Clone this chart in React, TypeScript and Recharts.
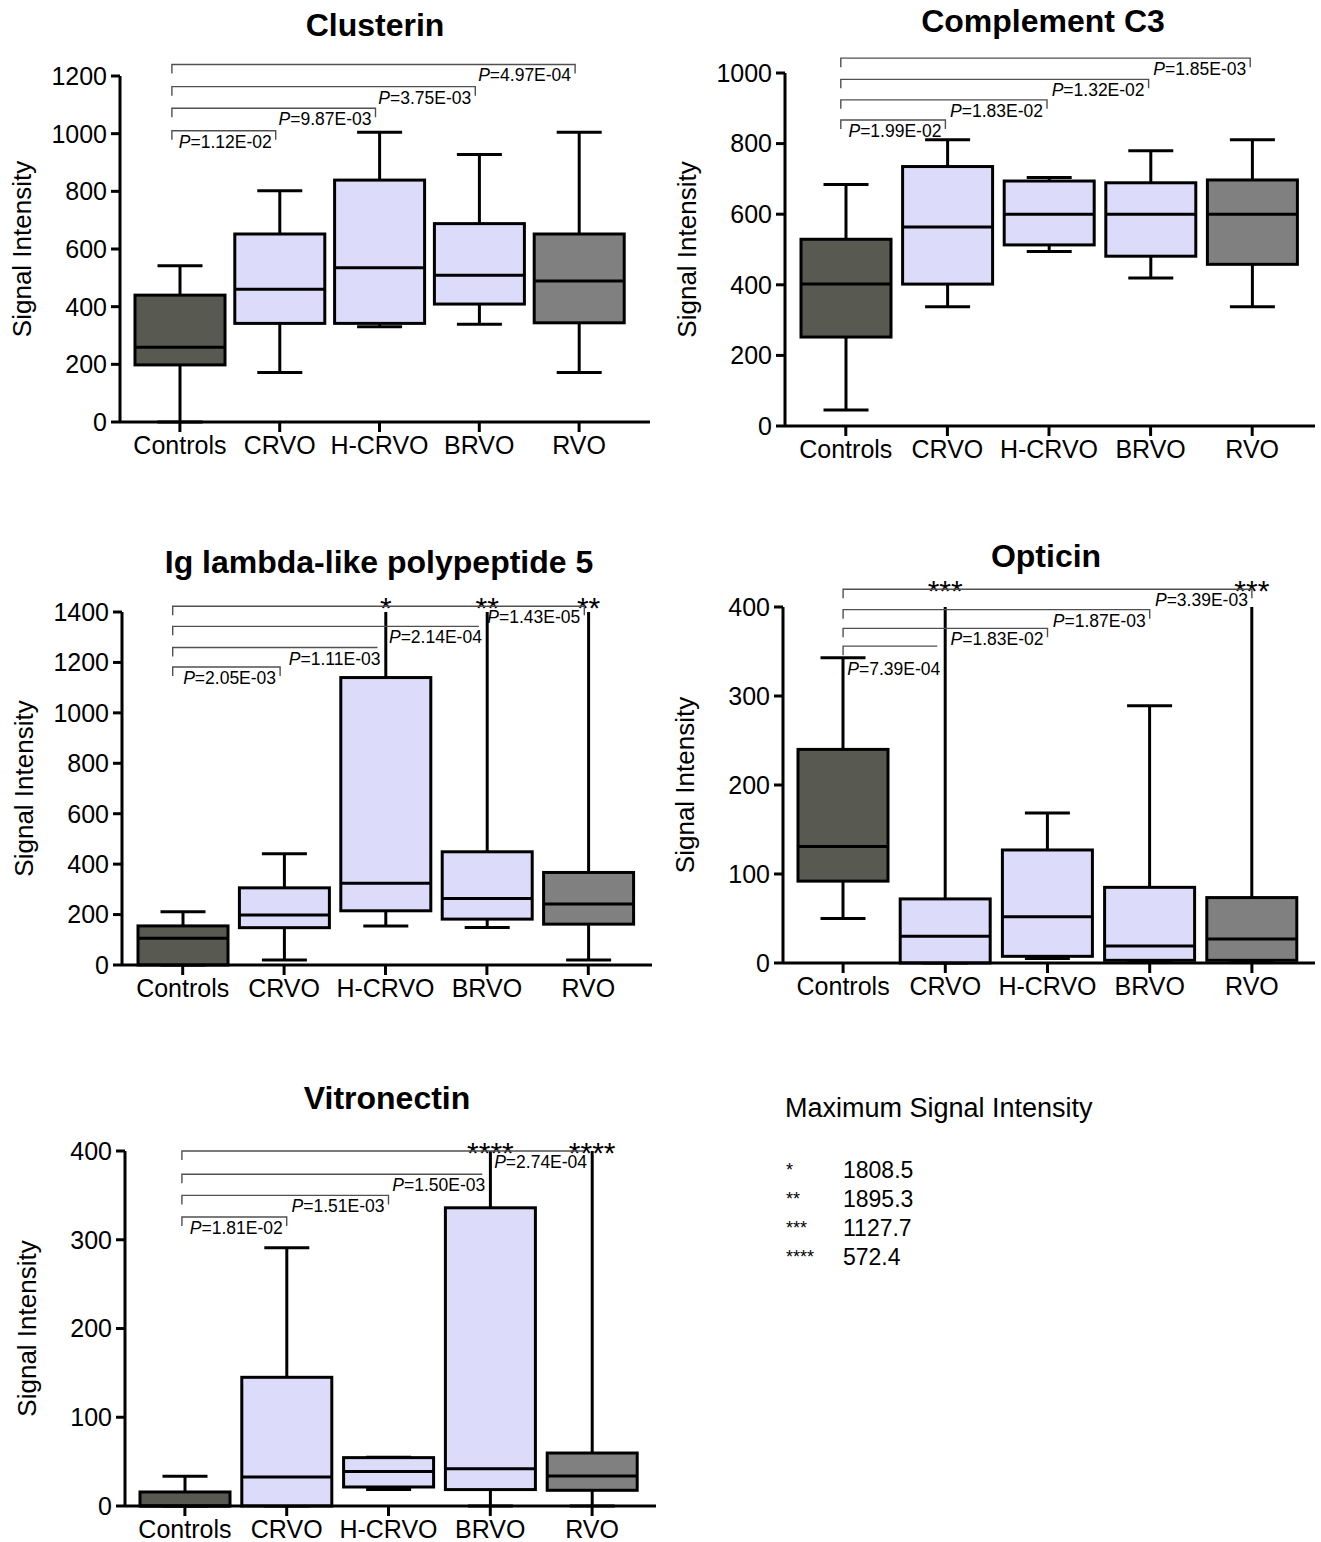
import React from "react";
import { ComposedChart, Bar, XAxis, YAxis, ReferenceLine } from "recharts";

const FONT = '"Liberation Sans", Arial, Helvetica, sans-serif';

const groups = ["Controls", "CRVO", "H-CRVO", "BRVO", "RVO"];
const boxFills = ["#585951", "#dcdcfa", "#dcdcfa", "#dcdcfa", "#808080"];

// whiskers that run off the top of an axis, keyed by star count
const maxStars = ["*", "**", "***", "****"];
const maxValues = [1808.5, 1895.3, 1127.7, 572.4];

// Clusterin
const clusterinTicks = [0, 200, 400, 600, 800, 1000, 1200];
const clusterinMin = [0, 172, 330, 339, 172];
const clusterinQ1 = [198, 342, 342, 409, 344];
const clusterinMedian = [259, 460, 535, 509, 489];
const clusterinQ3 = [440, 652, 839, 688, 652];
const clusterinMax = [542, 802, 1005, 928, 1005];
const clusterinPTargets = ["CRVO", "H-CRVO", "BRVO", "RVO"];
const clusterinPValues = ["1.12E-02", "9.87E-03", "3.75E-03", "4.97E-04"];
const clusterinPLevels = [1010, 1088, 1163, 1240];
const clusterinPLegs = [true, true, true, true];

// Complement C3
const c3Ticks = [0, 200, 400, 600, 800, 1000];
const c3Min = [45, 338, 494, 419, 338];
const c3Q1 = [252, 402, 513, 481, 458];
const c3Median = [402, 564, 600, 600, 600];
const c3Q3 = [529, 735, 694, 689, 697];
const c3Max = [684, 811, 704, 780, 811];
const c3PTargets = ["CRVO", "H-CRVO", "BRVO", "RVO"];
const c3PValues = ["1.99E-02", "1.83E-02", "1.32E-02", "1.85E-03"];
const c3PLevels = [867, 924, 982, 1042];
const c3PLegs = [true, true, true, true];

// Ig lambda-like polypeptide 5
const iglTicks = [0, 200, 400, 600, 800, 1000, 1200, 1400];
const iglMin = [0, 20, 155, 149, 20];
const iglQ1 = [0, 148, 215, 182, 162];
const iglMedian = [106, 198, 324, 264, 242];
const iglQ3 = [155, 306, 1140, 449, 367];
const iglMax = [211, 441, 1808.5, 1895.3, 1895.3];
const iglPTargets = ["CRVO", "H-CRVO", "BRVO", "RVO"];
const iglPValues = ["2.05E-03", "1.11E-03", "2.14E-04", "1.43E-05"];
const iglPLevels = [1182, 1259, 1343, 1423];
const iglPLegs = [true, false, false, true];

// Opticin
const opticinTicks = [0, 100, 200, 300, 400];
const opticinMin = [50, 0, 5, 2, 2];
const opticinQ1 = [92, 0, 7.5, 3, 3];
const opticinMedian = [131, 30, 52, 19, 27];
const opticinQ3 = [240, 72, 127, 85, 73.5];
const opticinMax = [343, 1127.7, 168.5, 289, 1127.7];
const opticinPTargets = ["CRVO", "H-CRVO", "BRVO", "RVO"];
const opticinPValues = ["7.39E-04", "1.83E-02", "1.87E-03", "3.39E-03"];
const opticinPLevels = [356, 376, 397, 420];
const opticinPLegs = [false, true, true, true];

// Vitronectin
const vitroTicks = [0, 100, 200, 300, 400];
const vitroMin = [0, 0, 18.5, 0, 0];
const vitroQ1 = [0, 0, 21.4, 18.5, 17.7];
const vitroMedian = [0, 32.7, 39, 42, 33.8];
const vitroQ3 = [15.8, 145, 54.5, 336, 59.7];
const vitroMax = [33.5, 291, 55, 572.4, 572.4];
const vitroPTargets = ["CRVO", "H-CRVO", "BRVO", "RVO"];
const vitroPValues = ["1.81E-02", "1.51E-03", "1.50E-03", "2.74E-04"];
const vitroPLevels = [325.6, 350, 373.8, 400];
const vitroPLegs = [true, true, false, false];

const AXIS_W = 120;
const TOP_ROOM = 70;
const X_AXIS_H = 36;

function BoxShape(props: any) {
  const { x, y, width, height, payload, starLevel } = props;
  const lo = payload.range[0];
  const hi = payload.range[1];
  const toY = (v: number) => y + (height * (hi - v)) / (hi - lo);
  const cx = x + width / 2;
  const cap = width / 4;
  const clipped = payload.stars != null;
  return (
    <g>
      <line x1={cx} x2={cx} y1={toY(hi)} y2={toY(lo)} stroke="#000" strokeWidth={3} />
      {!clipped && <line x1={cx - cap} x2={cx + cap} y1={toY(hi)} y2={toY(hi)} stroke="#000" strokeWidth={3} />}
      <line x1={cx - cap} x2={cx + cap} y1={toY(lo)} y2={toY(lo)} stroke="#000" strokeWidth={3} />
      <rect
        x={x}
        y={toY(payload.q3)}
        width={width}
        height={Math.max(toY(payload.q1) - toY(payload.q3), 0)}
        fill={payload.fill}
        stroke="#000"
        strokeWidth={3}
      />
      <line x1={x} x2={x + width} y1={toY(payload.median)} y2={toY(payload.median)} stroke="#000" strokeWidth={3} />
      {clipped && (
        <text x={cx} y={toY(starLevel) + 12} textAnchor="middle" fontSize={30} fontFamily={FONT} fill="#000">
          {payload.stars}
        </text>
      )}
    </g>
  );
}

function Bracket(props: any) {
  const { x1, y1, x2, label, leg, shiftL, shiftR, labelDy } = props;
  const lx = x1 + shiftL;
  const rx = leg ? x2 + shiftR : x2 - 8;
  const legLen = 9;
  const d = leg
    ? `M${lx},${y1 + legLen}V${y1}H${rx}V${y1 + legLen}`
    : `M${lx},${y1 + legLen}V${y1}H${rx}`;
  return (
    <g>
      <path d={d} fill="none" stroke="#505050" strokeWidth={1.4} />
      <text
        x={leg ? rx - 4 : rx + 3}
        y={y1 + labelDy}
        textAnchor="end"
        dominantBaseline="central"
        fontSize={17.5}
        fontFamily={FONT}
        fill="#000"
      >
        <tspan fontStyle="italic">P</tspan>={label}
      </text>
    </g>
  );
}

type PanelProps = {
  title: string;
  titleX: number;
  titleY: number;
  plotLeft: number;
  plotRight: number;
  plotTop: number;
  plotBottom: number;
  padL: number;
  padR: number;
  ticks: number[];
  mins: number[];
  q1s: number[];
  medians: number[];
  q3s: number[];
  maxs: number[];
  pTargets: string[];
  pValues: string[];
  pLevels: number[];
  pLegs: boolean[];
  shiftL: number;
  shiftR: number;
  labelDy?: number[];
};

function BoxPanel(p: PanelProps) {
  const domainMax = p.ticks[p.ticks.length - 1];
  const rows = groups.map((g, i) => ({
    name: g,
    fill: boxFills[i],
    min: p.mins[i],
    q1: p.q1s[i],
    median: p.medians[i],
    q3: p.q3s[i],
    max: p.maxs[i],
    range: [p.mins[i], Math.min(p.maxs[i], domainMax)],
    stars: p.maxs[i] > domainMax ? maxStars[maxValues.indexOf(p.maxs[i])] : null,
  }));
  const starLevel = Math.max(...p.pLevels);
  const svgLeft = p.plotLeft - AXIS_W;
  const svgTop = p.plotTop - TOP_ROOM;
  const width = p.plotRight + 5 - svgLeft;
  const height = p.plotBottom + X_AXIS_H - svgTop;

  return (
    <>
      <div
        style={{
          position: "absolute",
          left: p.titleX - 300,
          width: 600,
          top: p.titleY - 16,
          lineHeight: "32px",
          fontSize: 32,
          fontWeight: "bold",
          textAlign: "center",
          fontFamily: FONT,
        }}
      >
        {p.title}
      </div>
      <div style={{ position: "absolute", left: svgLeft, top: svgTop }}>
        <ComposedChart
          width={width}
          height={height}
          data={rows}
          margin={{ top: TOP_ROOM, right: 5, bottom: 0, left: 0 }}
        >
          <XAxis
            dataKey="name"
            type="category"
            height={X_AXIS_H}
            padding={{ left: p.padL, right: p.padR }}
            axisLine={{ stroke: "#000", strokeWidth: 3 }}
            tickLine={{ stroke: "#000", strokeWidth: 3 }}
            tickSize={10}
            tickMargin={4}
            tick={{ fill: "#000", fontSize: 25, fontFamily: FONT }}
            interval={0}
          />
          <YAxis
            type="number"
            domain={[0, domainMax]}
            ticks={p.ticks}
            width={AXIS_W}
            axisLine={{ stroke: "#000", strokeWidth: 3 }}
            tickLine={{ stroke: "#000", strokeWidth: 3 }}
            tickSize={9}
            tickMargin={4}
            tick={{ fill: "#000", fontSize: 25, fontFamily: FONT }}
            label={(lp: any) => {
              const vb = lp.viewBox || { x: 0, y: TOP_ROOM, width: AXIS_W, height: p.plotBottom - p.plotTop };
              const cx = vb.x + vb.width - 98;
              const cy = vb.y + vb.height / 2;
              return (
                <text
                  x={cx}
                  y={cy}
                  transform={`rotate(-90 ${cx} ${cy})`}
                  textAnchor="middle"
                  dominantBaseline="central"
                  fontSize={26}
                  fontFamily={FONT}
                  fill="#000"
                >
                  Signal Intensity
                </text>
              );
            }}
          />
          <Bar
            dataKey="range"
            barSize={90}
            isAnimationActive={false}
            shape={(sp: any) => <BoxShape {...sp} starLevel={starLevel} />}
          />
          {p.pTargets.map((t, i) => (
            <ReferenceLine
              key={t}
              segment={[
                { x: "Controls", y: p.pLevels[i] },
                { x: t, y: p.pLevels[i] },
              ]}
              ifOverflow="visible"
              shape={(lp: any) => (
                <Bracket
                  {...lp}
                  label={p.pValues[i]}
                  leg={p.pLegs[i]}
                  shiftL={p.shiftL}
                  shiftR={p.shiftR}
                  labelDy={p.labelDy ? p.labelDy[i] : 11}
                />
              )}
            />
          ))}
        </ComposedChart>
      </div>
    </>
  );
}

const legendRows = maxStars.map((s, i) => ({ stars: s, value: maxValues[i].toFixed(1) }));

export default function App() {
  return (
    <div
      style={{
        position: "absolute",
        left: 0,
        top: 0,
        width: 1321,
        height: 1542,
        overflow: "hidden",
        background: "#fff",
        fontFamily: FONT,
        color: "#000",
      }}
    >
      <BoxPanel
        title="Clusterin"
        titleX={375}
        titleY={25}
        plotLeft={120}
        plotRight={650}
        plotTop={76}
        plotBottom={422}
        padL={10}
        padR={21}
        ticks={clusterinTicks}
        mins={clusterinMin}
        q1s={clusterinQ1}
        medians={clusterinMedian}
        q3s={clusterinQ3}
        maxs={clusterinMax}
        pTargets={clusterinPTargets}
        pValues={clusterinPValues}
        pLevels={clusterinPLevels}
        pLegs={clusterinPLegs}
        shiftL={-8}
        shiftR={-4}
      />
      <BoxPanel
        title="Complement C3"
        titleX={1043}
        titleY={21}
        plotLeft={785}
        plotRight={1315}
        plotTop={72.5}
        plotBottom={425.5}
        padL={10}
        padR={12}
        ticks={c3Ticks}
        mins={c3Min}
        q1s={c3Q1}
        medians={c3Median}
        q3s={c3Q3}
        maxs={c3Max}
        pTargets={c3PTargets}
        pValues={c3PValues}
        pLevels={c3PLevels}
        pLegs={c3PLegs}
        shiftL={-5}
        shiftR={-2}
      />
      <BoxPanel
        title="Ig lambda-like polypeptide 5"
        titleX={379}
        titleY={562}
        plotLeft={122}
        plotRight={652}
        plotTop={612}
        plotBottom={965}
        padL={10}
        padR={13}
        ticks={iglTicks}
        mins={iglMin}
        q1s={iglQ1}
        medians={iglMedian}
        q3s={iglQ3}
        maxs={iglMax}
        pTargets={iglPTargets}
        pValues={iglPValues}
        pLevels={iglPLevels}
        pLegs={iglPLegs}
        shiftL={-10}
        shiftR={-4}
      />
      <BoxPanel
        title="Opticin"
        titleX={1046}
        titleY={556}
        plotLeft={783}
        plotRight={1315}
        plotTop={607}
        plotBottom={963}
        padL={9}
        padR={12}
        ticks={opticinTicks}
        mins={opticinMin}
        q1s={opticinQ1}
        medians={opticinMedian}
        q3s={opticinQ3}
        maxs={opticinMax}
        pTargets={opticinPTargets}
        pValues={opticinPValues}
        pLevels={opticinPLevels}
        pLegs={opticinPLegs}
        shiftL={0}
        shiftR={0}
        labelDy={[23, 11, 11, 11]}
      />
      <BoxPanel
        title="Vitronectin"
        titleX={387}
        titleY={1098}
        plotLeft={125}
        plotRight={656}
        plotTop={1151}
        plotBottom={1506}
        padL={9}
        padR={13}
        ticks={vitroTicks}
        mins={vitroMin}
        q1s={vitroQ1}
        medians={vitroMedian}
        q3s={vitroQ3}
        maxs={vitroMax}
        pTargets={vitroPTargets}
        pValues={vitroPValues}
        pLevels={vitroPLevels}
        pLegs={vitroPLegs}
        shiftL={-3}
        shiftR={0}
      />
      <div
        style={{ position: "absolute", left: 785, top: 1108 - 14, fontSize: 27, lineHeight: "28px", whiteSpace: "nowrap" }}
      >
        Maximum Signal Intensity
      </div>
      {legendRows.map((r, i) => (
        <React.Fragment key={r.stars}>
          <div
            style={{ position: "absolute", left: 786, top: 1170 + i * 29 - 9, fontSize: 18, lineHeight: "18px" }}
          >
            {r.stars}
          </div>
          <div
            style={{ position: "absolute", left: 843, top: 1170 + i * 29 - 11.5, fontSize: 23, lineHeight: "23px" }}
          >
            {r.value}
          </div>
        </React.Fragment>
      ))}
    </div>
  );
}
